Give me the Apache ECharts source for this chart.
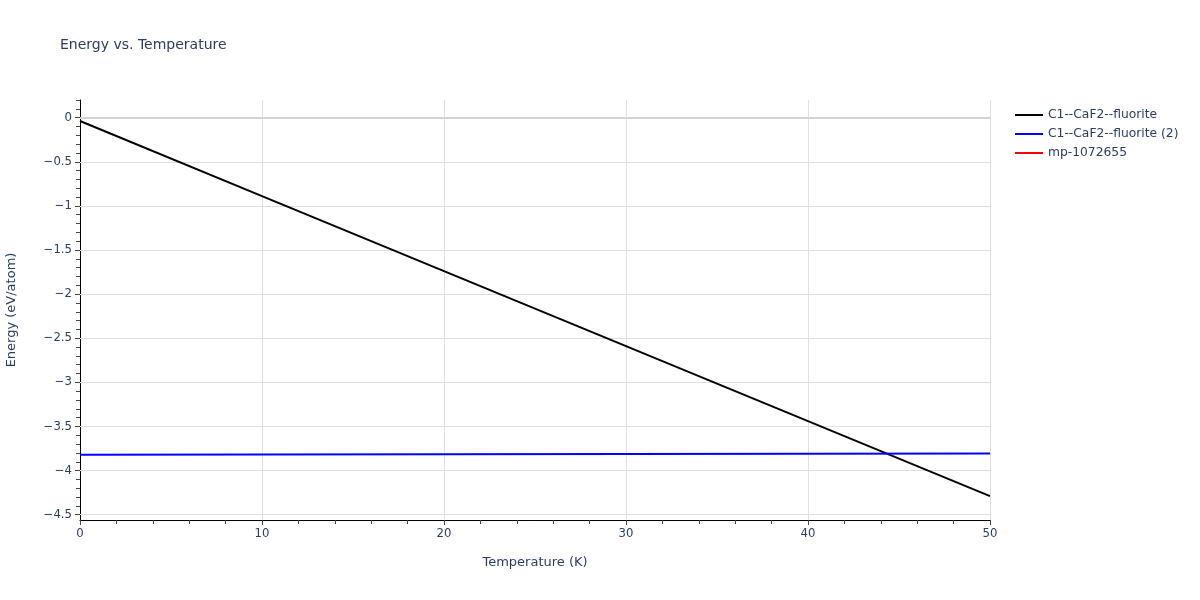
<!DOCTYPE html>
<html>
<head>
<meta charset="utf-8">
<script src="https://cdn.jsdelivr.net/npm/echarts@6/dist/echarts.min.js"></script>
<style>
  html, body { margin: 0; padding: 0; background: #fff; }
  #chart { width: 1200px; height: 600px; }
</style>
</head>
<body>
<div id="chart"></div>
<script>
// values
var temps = [0, 10, 20, 30, 40, 50];
var fluorite = [-0.038, -0.89, -1.74, -2.59, -3.44, -4.29];
var fluorite2 = [-3.82, -3.817, -3.814, -3.811, -3.808, -3.805];
var mp1072655 = [];

var seriesNames = ["C1--CaF2--fluorite", "C1--CaF2--fluorite (2)", "mp-1072655"];
var yMajorTicks = [0, -0.5, -1, -1.5, -2, -2.5, -3, -3.5, -4, -4.5];
var yMinorTicks = [];
for (var v = 2; v >= -45; v--) yMinorTicks.push(v / 10);

var yMin = -4.56, yMax = 0.2;
var textColor = "#2a3f5f";
var font = "'DejaVu Sans', Verdana, sans-serif";

function pairs(xs, ys) {
    return ys.map(function (y, i) { return [xs[i], y]; });
}

function fmt(val) {
    var s = String(Math.round(val * 10) / 10);
    return s.replace("-", "\u2212");
}

var chart = echarts.init(document.getElementById("chart"));

var option = {
    animation: false,
    textStyle: { fontFamily: font },
    title: {
        text: "Energy vs. Temperature",
        left: 60,
        top: 38,
        padding: 0,
        textStyle: { fontFamily: font, fontSize: 14, fontWeight: "normal", color: textColor }
    },
    legend: {
        orient: "vertical",
        left: 1010,
        top: 104,
        itemWidth: 28,
        itemHeight: 2,
        itemGap: 7,
        icon: "rect",
        data: seriesNames,
        textStyle: { fontFamily: font, fontSize: 12.3, color: textColor }
    },
    grid: { left: 80, right: 210, top: 100, bottom: 80, containLabel: false, outerBoundsMode: "none" },
    xAxis: {
        type: "value",
        min: 0,
        max: 50,
        interval: 10,
        name: "Temperature (K)",
        nameLocation: "middle",
        nameGap: 36,
        nameTextStyle: { fontFamily: font, fontSize: 13, color: textColor },
        axisLine: { show: true, onZero: false, lineStyle: { color: "#000", width: 1 } },
        axisTick: { show: true, inside: false, length: 5, lineStyle: { color: "#444" } },
        minorTick: { show: true, splitNumber: 5, length: 4, lineStyle: { color: "#444" } },
        axisLabel: { margin: 8, fontFamily: font, fontSize: 11.7, color: textColor },
        splitLine: { show: true, lineStyle: { color: "#e0e0e0", width: 1 } }
    },
    yAxis: [{
        type: "value",
        min: yMin,
        max: yMax,
        name: "Energy (eV/atom)",
        nameLocation: "middle",
        nameGap: 62,
        nameTextStyle: { fontFamily: font, fontSize: 13, color: textColor },
        axisLine: { show: true, onZero: false, lineStyle: { color: "#000", width: 1 } },
        axisTick: { show: true, inside: false, length: 4, customValues: yMinorTicks, lineStyle: { color: "#444" } },
        axisLabel: { margin: 8, customValues: yMajorTicks, formatter: fmt, fontFamily: font, fontSize: 11.7, color: textColor },
        splitLine: { show: false }
    }, {
        type: "value",
        min: yMin,
        max: yMax,
        position: "left",
        axisLine: { show: false },
        axisTick: { show: true, inside: false, length: 5, customValues: yMajorTicks, lineStyle: { color: "#444" } },
        axisLabel: { show: false },
        splitLine: { show: false }
    }],
    series: [
        {
            // horizontal grid lines and the zero line
            type: "line",
            data: [],
            z: 1,
            markLine: {
                silent: true,
                z: 1,
                symbol: "none",
                label: { show: false },
                animation: false,
                lineStyle: { color: "#e0e0e0", width: 1, type: "solid" },
                data: yMajorTicks.filter(function (t) { return t !== 0; }).map(function (t) { return { yAxis: t }; })
                    .concat([{ yAxis: 0, lineStyle: { color: "#d3d3d3", width: 2 } }])
            }
        },
        {
            name: seriesNames[0],
            type: "line",
            data: pairs(temps, fluorite),
            showSymbol: false,
            lineStyle: { color: "#000000", width: 2 },
            itemStyle: { color: "#000000" },
            z: 3
        },
        {
            name: seriesNames[1],
            type: "line",
            data: pairs(temps, fluorite2),
            showSymbol: false,
            lineStyle: { color: "#0000ff", width: 2 },
            itemStyle: { color: "#0000ff" },
            z: 4
        },
        {
            name: seriesNames[2],
            type: "line",
            data: mp1072655,
            showSymbol: false,
            lineStyle: { color: "#ff0000", width: 2 },
            itemStyle: { color: "#ff0000" },
            z: 5
        }
    ]
};

chart.setOption(option);
</script>
</body>
</html>
